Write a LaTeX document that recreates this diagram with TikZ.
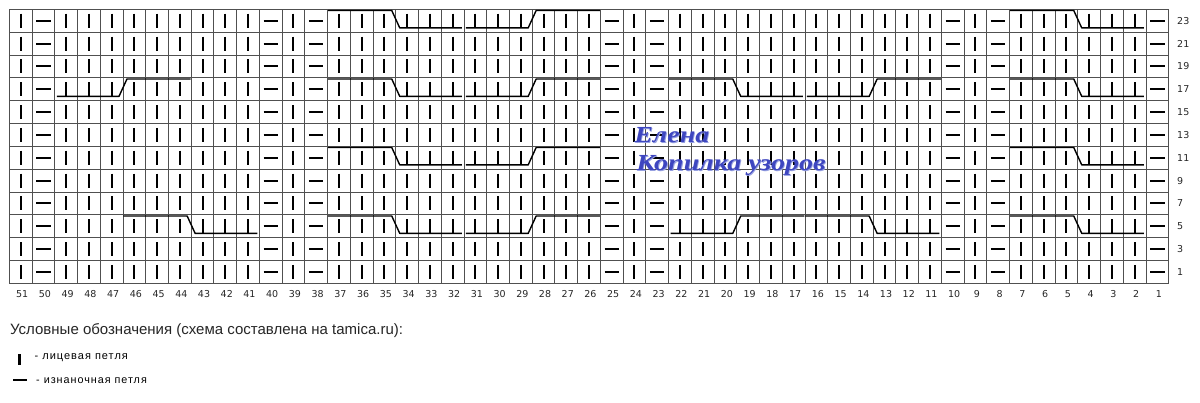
\documentclass[tikz,border=0pt]{standalone}
\usepackage{fontspec}
\setmainfont{Liberation Sans}
\newfontfamily\numfont{DejaVu Sans}
\newfontfamily\legfont[LetterSpace=9]{Liberation Sans}
\newfontfamily\wmfont{Liberation Serif}
\definecolor{gridc}{RGB}{80,80,80}
\definecolor{wmblue}{RGB}{62,70,192}
\definecolor{wmshadow}{RGB}{150,160,225}
\tikzset{
  gridline/.style={draw=gridc,line width=0.9pt},
  knitst/.style={draw=black,line width=2pt},
  purlst/.style={draw=black,line width=2pt},
  cableline/.style={draw=black,line width=1.4pt,line join=round},
  numlabel/.style={inner sep=0pt,font=\numfont\fontsize{9.5}{10}\selectfont,text=black!85},
  wmtext/.style={inner sep=0pt,anchor=base west,xscale=1.22,text=wmblue,font=\wmfont\bfseries\itshape\fontsize{23}{26}\selectfont},
}
\begin{document}
\begin{tikzpicture}[x=1pt,y=-1pt]
\useasboundingbox (0,0) rectangle (1200,403);
\fill[white] (0,0) rectangle (1200,403);
\def\XO{9.3}\def\YO{9.3}\def\W{22.733}\def\H{22.833}
% grid
\foreach \k in {0,...,51}{
  \draw[gridline] ({\XO+\k*\W},\YO) -- ({\XO+\k*\W},{\YO+12*\H});
}
\foreach \k in {0,...,12}{
  \draw[gridline] (\XO,{\YO+\k*\H}) -- ({\XO+51*\W},{\YO+\k*\H});
}
% knit stitches
\foreach \c in {51,49,48,47,46,45,44,43,42,41,39,37,36,35,34,33,32,31,30,29,28,27,26,24,22,21,20,19,18,17,16,15,14,13,12,11,9,7,6,5,4,3,2}{
  \foreach \i in {0,...,11}{
    \draw[knitst] ({\XO+(51.5-\c)*\W},{\YO+(\i+0.5)*\H-7}) -- ({\XO+(51.5-\c)*\W},{\YO+(\i+0.5)*\H+7});
  }
}
% purl stitches
\foreach \c in {50,40,38,25,23,10,8,1}{
  \foreach \i in {0,...,11}{
    \draw[purlst] ({\XO+(51.5-\c)*\W-7.2},{\YO+(\i+0.5)*\H}) -- ({\XO+(51.5-\c)*\W+7.2},{\YO+(\i+0.5)*\H});
  }
}
% cables: high then low
\foreach \i/\c in {0/37,0/7,3/37,3/22,3/7,6/37,6/7,9/46,9/37,9/16,9/7}{
  \draw[cableline] ({\XO+(51-\c)*\W+0.5},{\YO+\i*\H+1.2}) -- ({\XO+(54-\c)*\W-4},{\YO+\i*\H+1.2})
     -- ({\XO+(54-\c)*\W+4},{\YO+(\i+1)*\H-4.2}) -- ({\XO+(57-\c)*\W-2},{\YO+(\i+1)*\H-4.2});
}
% cables: low then high
\foreach \i/\c in {0/31,3/49,3/31,3/16,6/31,9/31,9/22}{
  \draw[cableline] ({\XO+(51-\c)*\W+2},{\YO+(\i+1)*\H-4.2}) -- ({\XO+(54-\c)*\W-4},{\YO+(\i+1)*\H-4.2})
     -- ({\XO+(54-\c)*\W+4},{\YO+\i*\H+1.2}) -- ({\XO+(57-\c)*\W-0.5},{\YO+\i*\H+1.2});
}
% row numbers
\foreach \i in {0,...,11}{
  \pgfmathtruncatemacro\rn{23-2*\i}
  \node[numlabel,anchor=base west] (row\rn) at (1177,{\YO+(\i+0.5)*\H+3.5}) {\rn};
}
% column numbers
\foreach \c in {1,...,51}{
  \node[numlabel,anchor=base] (col\c) at ({\XO+(51.5-\c)*\W+1.5},298) {\c};
}
% watermark
\node[wmtext,text=wmshadow] (wm1s) at (634.8,143.8) {Елена};
\node[wmtext] (wm1) at (634,143) {Елена};
\node[wmtext,text=wmshadow] (wm2s) at (636.8,171.3) {Копилка узоров};
\node[wmtext] (wm2) at (636,170.5) {Копилка узоров};
% legend
\node[inner sep=0pt,anchor=base west,font=\fontsize{15}{17}\selectfont,text=black!85] (legtitle) at (10,334.5) {Условные обозначения (схема составлена на tamica.ru):};
\draw[knitst,line width=2.3pt] (19.5,354.5) -- (19.5,365);
\node[inner sep=0pt,anchor=west,font=\legfont\fontsize{11}{12}\selectfont] (legknit) at (34.5,357.5) {- лицевая петля};
\draw[purlst] (13.3,380.5) -- (26.7,380.5);
\node[inner sep=0pt,anchor=west,font=\legfont\fontsize{10.8}{12}\selectfont] (legpurl) at (36,380.5) {- изнаночная петля};
\end{tikzpicture}
\end{document}
